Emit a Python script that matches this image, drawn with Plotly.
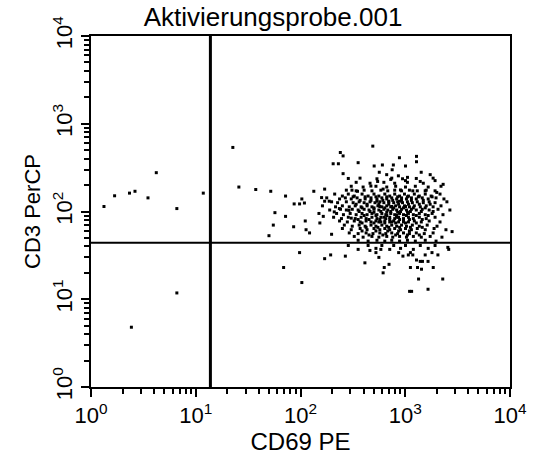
import plotly.graph_objects as go

# ---- data (CD69 PE, CD3 PerCP) ----
gate_cd69 = 13.8
gate_cd3 = 44.0

q1_events = [(1.33, 114), (1.68, 151), (2.33, 162), (2.63, 170), (4.2, 277), (3.5, 143),
             (6.6, 108), (11.8, 162)]
q3_events = [(6.6, 11.8), (2.43, 4.8)]

q2_events = [
    (286, 238), (537, 236), (743, 240), (942, 236), (1275, 238), (1845, 240),
    (340, 215), (461, 210), (625, 215), (793, 210), (1049, 215), (1487, 210),
    (305, 194), (396, 190), (525, 194), (666, 190), (810, 194), (1005, 190), (1248, 194), (1656, 190), (2194, 194),
    (274, 175), (340, 172), (405, 175), (481, 172), (585, 175), (681, 172), (793, 175), (922, 172), (1096, 175),
    (1303, 172), (1586, 175), (1926, 172),
    (212, 158), (251, 150), (286, 158), (326, 150), (387, 158), (442, 150), (503, 158), (560, 150), (638, 158),
    (711, 150), (793, 158), (883, 150), (983, 158), (1073, 150), (1221, 158), (1362, 150), (1552, 158), (1767, 150),
    (2147, 158),
    (178, 143), (236, 139), (268, 143), (305, 139), (347, 143), (414, 139), (471, 143), (537, 139), (598, 143),
    (666, 139), (743, 143), (828, 139), (922, 143), (1027, 139), (1145, 143), (1275, 139), (1453, 143), (1656, 139),
    (1968, 143), (2341, 139),
    (198, 129), (226, 126), (274, 129), (318, 126), (363, 129), (405, 126), (461, 129), (514, 126), (572, 129),
    (625, 126), (696, 129), (776, 126), (846, 129), (942, 126), (1049, 129), (1169, 126), (1303, 129), (1487, 126),
    (1692, 129), (1926, 126), (2498, 129),
    (162, 116), (216, 113), (251, 116), (292, 113), (333, 116), (379, 113), (432, 116), (481, 113), (548, 116),
    (598, 113), (666, 116), (727, 113), (810, 116), (883, 113), (983, 116), (1096, 113), (1221, 116), (1392, 113),
    (1586, 116), (1845, 113), (2194, 116),
    (190, 104), (241, 106), (274, 104), (312, 106), (355, 104), (405, 106), (451, 104), (503, 106), (560, 104),
    (625, 106), (681, 104), (759, 106), (828, 104), (922, 106), (1027, 104), (1145, 106), (1275, 104), (1453, 106),
    (1692, 104), (2055, 106), (2667, 104),
    (221, 95), (257, 92), (298, 95), (340, 92), (387, 95), (432, 92), (481, 95), (537, 92), (598, 95), (652, 92),
    (727, 95), (793, 92), (883, 95), (962, 92), (1073, 95), (1195, 92), (1362, 95), (1552, 92), (1805, 95), (2292, 92),
    (207, 86), (246, 83), (286, 86), (333, 83), (379, 86), (423, 83), (481, 86), (537, 83), (585, 86), (652, 83),
    (711, 86), (793, 83), (864, 86), (962, 83), (1073, 86), (1195, 83), (1362, 86), (1586, 83), (1926, 86),
    (236, 78), (280, 76), (326, 78), (371, 76), (423, 78), (471, 76), (525, 78), (585, 76), (638, 78), (711, 76),
    (776, 78), (864, 76), (962, 78), (1073, 76), (1221, 78), (1423, 76), (1692, 78), (2147, 76),
    (262, 70), (312, 68), (363, 70), (414, 68), (471, 70), (525, 68), (598, 70), (666, 68), (743, 70), (828, 68),
    (922, 70), (1027, 68), (1169, 70), (1362, 68), (1620, 70), (2010, 68),
    (251, 64), (305, 62), (371, 64), (432, 62), (503, 64), (572, 62), (638, 64), (711, 62), (793, 64), (902, 62),
    (1005, 64), (1145, 62), (1303, 64), (1552, 62), (1885, 64), (2446, 62),
    (292, 57), (355, 56), (423, 57), (492, 56), (572, 57), (652, 56), (743, 57), (846, 56), (962, 57), (1096, 56),
    (1275, 57), (1519, 56), (1845, 57),
    (326, 52), (396, 51), (481, 52), (560, 51), (666, 52), (759, 51), (883, 52), (1027, 51), (1195, 52), (1423, 51),
    (1729, 52), (2240, 51),
    (355, 47), (442, 46), (537, 47), (638, 46), (743, 47), (883, 46), (1049, 47), (1248, 46), (1552, 47), (1968, 46),
    # dense core, second layer
    (318, 147), (414, 147), (525, 147), (666, 147), (846, 147), (1049, 147), (1333, 147), (1805, 147),
    (371, 134), (471, 134), (611, 134), (759, 134), (922, 134), (1145, 134), (1487, 134),
    (340, 121), (432, 121), (560, 121), (696, 121), (864, 121), (1073, 121), (1362, 121), (1729, 121),
    (387, 110), (503, 110), (638, 110), (776, 110), (962, 110), (1195, 110), (1552, 110),
    (363, 100), (461, 100), (585, 100), (727, 100), (902, 100), (1120, 100), (1423, 100), (1845, 100),
    (405, 90), (525, 90), (666, 90), (828, 90), (1027, 90), (1275, 90), (1656, 90),
    (355, 81), (451, 81), (572, 81), (711, 81), (883, 81), (1096, 81), (1453, 81),
    (387, 74), (503, 74), (638, 74), (810, 74), (1005, 74), (1275, 74),
    (423, 66), (548, 66), (696, 66), (883, 66), (1120, 66), (1453, 66),
    (387, 60), (525, 60), (681, 60), (864, 60), (1096, 60),
    (451, 54), (611, 54), (810, 54), (1049, 54), (1362, 54),
    # darkest centre
    (537, 131), (696, 131), (883, 131), (503, 98), (666, 98), (846, 98), (1049, 98),
    (560, 76), (743, 76), (962, 76), (572, 114), (743, 114), (1005, 114), (625, 86), (828, 86),
    # sparse upper tail
    (490, 556), (880, 410), (1280, 425), (1280, 369), (505, 330), (605, 339), (770, 339), (1005, 330), (750, 299),
    (565, 280), (665, 263), (860, 255), (1050, 245), (1420, 280), (1730, 263), (545, 220), (727, 232), (1005, 225),
    (1390, 220), (1926, 225), (2300, 204), (470, 195), (615, 180), (900, 176), (1180, 172), (1550, 172), (2000, 165),
    (240, 470), (255, 430), (205, 350), (230, 350), (355, 360), (255, 270), (370, 240), (52, 170), (134, 170),
    (170, 180), (310, 175), (350, 170), (22.6, 537), (25.8, 190), (37.4, 178),
    # sparse left flank
    (72, 150), (87, 122), (98, 122), (109, 125), (103, 139), (159, 144), (170, 131), (188, 131), (57, 97), (72, 88),
    (111, 78), (150, 95), (165, 88), (210, 99), (235, 108), (55, 70), (86, 67), (113, 62), (153, 74), (50, 53),
    (122, 57), (198, 55), (305, 84), (290, 103), (2800, 59),
]

q4_events = [
    (98, 34), (194, 32), (170, 29), (268, 31), (69, 23), (103, 15.5), (412, 26), (460, 36), (525, 34), (560, 30),
    (585, 37), (700, 25), (630, 23), (615, 20), (865, 34), (950, 31), (1070, 32), (1120, 34), (1180, 32), (1280, 28),
    (1390, 27), (1460, 27), (1310, 23), (1430, 22), (1120, 23), (1650, 27), (1550, 32), (1800, 34), (2050, 32),
    (1850, 23), (2600, 37), (1340, 17), (2280, 17), (1100, 12.3), (1150, 12.3), (1650, 13), (2550, 39),
    (286, 41), (442, 41), (598, 41), (776, 41), (1005, 41), (1392, 41), (1926, 41),
    (355, 37), (525, 38), (711, 37), (902, 38), (1195, 37), (1656, 38),
]

major_ticks = [1, 10, 100, 1000, 10000]
major_text = ["10<sup>0</sup>", "10<sup>1</sup>", "10<sup>2</sup>", "10<sup>3</sup>", "10<sup>4</sup>"]
minor_ticks = [m * d for d in (1, 10, 100, 1000) for m in range(2, 10)]

FONT = "Liberation Sans, Arial, sans-serif"

fig = go.Figure()
for ev in (q1_events, q2_events, q3_events, q4_events):
    xs, ys = zip(*ev)
    fig.add_trace(go.Scatter(x=list(xs), y=list(ys), mode="markers",
                             marker=dict(symbol="square", size=3, color="black", line=dict(width=0)),
                             showlegend=False, hoverinfo="skip"))

# quadrant gate lines
fig.add_trace(go.Scatter(x=[gate_cd69, gate_cd69], y=[major_ticks[0], major_ticks[-1]], mode="lines",
                         line=dict(color="black", width=3), showlegend=False, hoverinfo="skip"))
fig.add_trace(go.Scatter(x=[major_ticks[0], major_ticks[-1]], y=[gate_cd3, gate_cd3], mode="lines",
                         line=dict(color="black", width=2), showlegend=False, hoverinfo="skip"))

axis_common = dict(
    type="log", range=[0, 4], tickmode="array", tickvals=major_ticks, ticktext=major_text,
    ticks="outside", ticklen=8, tickwidth=2, tickcolor="black",
    showline=True, linewidth=2, linecolor="black", mirror=True,
    showgrid=False, zeroline=False,
    tickfont=dict(family=FONT, size=22, color="black"),
    minor=dict(tickmode="array", tickvals=minor_ticks, ticks="outside", ticklen=5, tickwidth=1.5,
               tickcolor="black", showgrid=False),
)

fig.update_layout(
    width=539, height=457,
    margin=dict(l=91, r=23, t=36, b=57),
    paper_bgcolor="white", plot_bgcolor="white",
    title=dict(text="Aktivierungsprobe.001", x=273 / 539, xref="container", xanchor="center",
               y=1 - 17 / 457, yanchor="middle",
               font=dict(family=FONT, size=26, color="black")),
    xaxis=dict(**axis_common, title=dict(text="CD69 PE", font=dict(family=FONT, size=24, color="black"),
                                         standoff=0)),
    yaxis=dict(**axis_common, tickangle=-90,
               title=dict(text="CD3 PerCP", font=dict(family=FONT, size=22, color="black"), standoff=2)),
)

fig.write_html("out.html")
